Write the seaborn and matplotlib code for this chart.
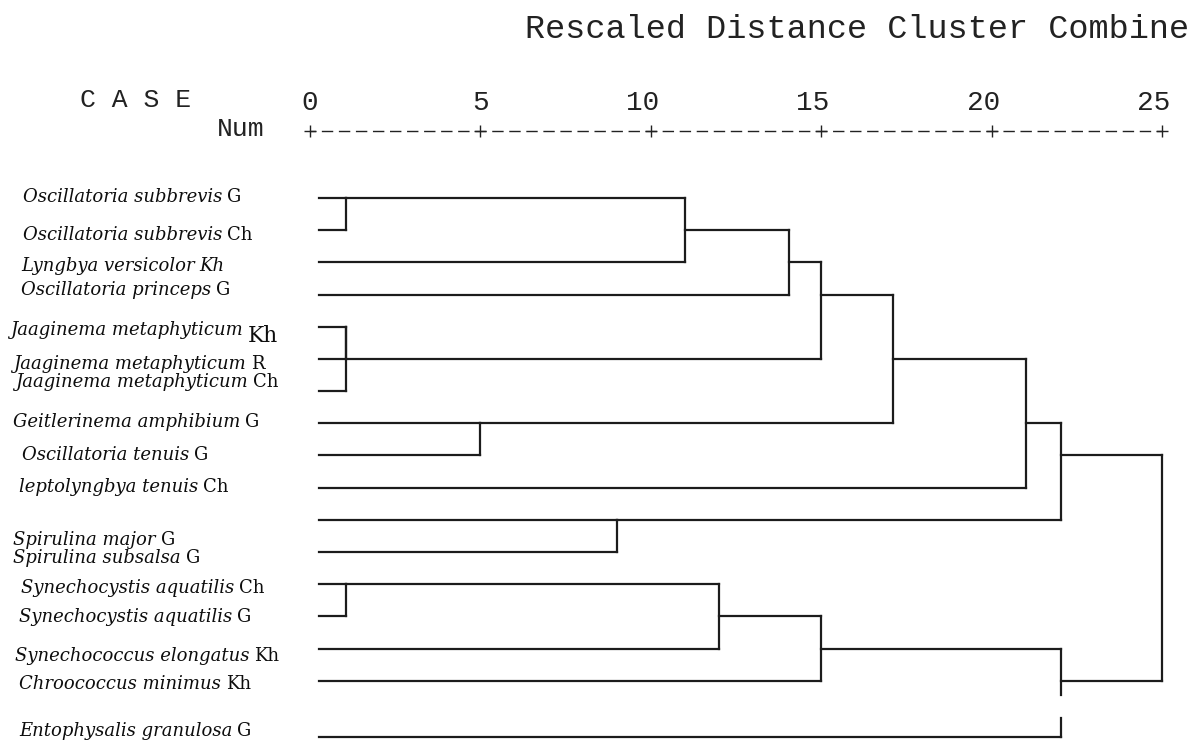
import matplotlib
matplotlib.use("Agg")
import matplotlib.pyplot as plt
import numpy as np
import pandas as pd
import seaborn as sns
from matplotlib.transforms import ScaledTranslation

# ---------------- data ----------------
species = ["Oscillatoria subbrevis", "Oscillatoria subbrevis", "Lyngbya versicolor",
           "Oscillatoria princeps", "Jaaginema metaphyticum", "Jaaginema metaphyticum",
           "Jaaginema metaphyticum", "Geitlerinema amphibium", "Oscillatoria tenuis",
           "leptolyngbya tenuis", "Spirulina major", "Spirulina subsalsa",
           "Synechocystis aquatilis", "Synechocystis aquatilis", "Synechococcus elongatus",
           "Chroococcus minimus", "Entophysalis granulosa"]
sites = ["G", "Ch", "Kh", "G", "Kh", "R", "Ch", "G", "G", "Ch", "G", "G", "Ch", "G",
         "Kh", "Kh", "G"]
# agglomeration schedule (leaves 0..16, new clusters numbered 17.. in order)
merge_a = [0, 4, 18, 12, 7, 10, 17, 20, 23, 24, 25, 27, 28, 29, 26, 30]
merge_b = [1, 5, 6, 13, 8, 11, 2, 14, 3, 15, 19, 21, 9, 22, 16, 31]
merge_h = [1.05, 1.05, 1.05, 1.05, 5.0, 9.0, 11.0, 12.0, 14.05, 15.0, 15.0, 17.1,
           21.0, 22.05, 22.05, 25.0]
x_ticks = [0, 5, 10, 15, 20, 25]
x_tick_labels = ["0", "5", "10", "15", "20", "25"]
title_text = "Rescaled Distance Cluster Combine"
case_text = "C A S E"
num_text = "Num"

# ---------------- layout / style ----------------
W, H = 1193, 742
X0_PX, X25_PX = 310, 1162          # pixel of distance 0 and 25
ROW0_PX, ROW_STEP = 198, 32.18     # first row line, spacing
AXIS_PX = 131                      # y of the +----+ line
LEAF_START = 0.26
LAST_ROW_GAP = 0.75
BREAK = (15.44, 16.16)
LINE_COLOR = "#1c1c1c"
TEXT_COLOR = "#0d0d0d"
label_x_px = [23, 23, 21, 21, 10, 13, 15, 13, 22, 19, 13, 13, 21, 19, 15, 19, 19]
label_base_px = [202, 240, 271, 295, 335, 369, 387, 427, 460, 492, 545, 563, 593, 622,
                 661, 689, 736]
suffix_italic = [False, False, True] + [False] * 14
suffix_scale = [1.0] * 4 + [1.2] + [1.0] * 12
suffix_drop = [0] * 4 + [7] + [0] * 12
LABEL_SIZE = 13

sns.set_theme(style="white")
plt.rcParams["font.family"] = ["DejaVu Serif"]
plt.rcParams["lines.scale_dashes"] = False

fig = plt.figure(figsize=(W / 100, H / 100), dpi=100)
fig.patch.set_facecolor("white")

y_top = (AXIS_PX - ROW0_PX) / ROW_STEP
y_bot = (H - ROW0_PX) / ROW_STEP
ax = fig.add_axes([X0_PX / W, 0, (X25_PX - X0_PX) / W, (H - AXIS_PX) / H])
ax.set_xlim(0, 25)
ax.set_ylim(y_bot, y_top)
ax.set_facecolor("white")

# ---------------- build dendrogram segments ----------------
n = len(species)
def disp(r):
    return r + (LAST_ROW_GAP if r >= n - 1 else 0.0)

row = {i: i for i in range(n)}
start = {i: LEAF_START for i in range(n)}
segs = []
sid = 0
for k, (a, b, h) in enumerate(zip(merge_a, merge_b, merge_h)):
    for c in (a, b):
        segs.append((sid, start[c], disp(row[c]))); segs.append((sid, h, disp(row[c]))); sid += 1
    ya, yb = sorted([disp(row[a]), disp(row[b])])
    if ya < BREAK[0] and yb > BREAK[1]:
        parts = [(ya, BREAK[0]), (BREAK[1], yb)]
    else:
        parts = [(ya, yb)]
    for p0, p1 in parts:
        segs.append((sid, h, p0)); segs.append((sid, h, p1)); sid += 1
    new = n + k
    row[new] = (row[a] + row[b]) // 2
    start[new] = h

df = pd.DataFrame(segs, columns=["seg", "x", "y"])
sns.lineplot(data=df, x="x", y="y", units="seg", estimator=None, sort=False,
             color=LINE_COLOR, lw=1.6, ax=ax)
for ln in ax.lines:
    ln.set_clip_on(False)
    ln.set_solid_capstyle("projecting")

ax.set_xlabel("")
ax.set_ylabel("")
ax.set_yticks([])

# ---------------- ASCII-like axis ----------------
for s in ["left", "right", "bottom"]:
    ax.spines[s].set_visible(False)
px2pt = 0.72
period = (X25_PX - X0_PX) / 50.0
ax.spines["top"].set_visible(True)
ax.spines["top"].set_color("#222222")
ax.spines["top"].set_linewidth(1.0)
ax.spines["top"].set_linestyle((5 * px2pt, (10 * px2pt, (period - 10) * px2pt)))
ax.xaxis.tick_top()
ax.set_xticks(x_ticks)
ax.set_xticklabels(x_tick_labels)
ax.tick_params(axis="x", which="both", direction="inout", length=8, width=1.0,
               color="#222222", pad=7, labelsize=20, labelcolor="#222222")
ax.plot(x_ticks, [1] * len(x_ticks), marker="_", ms=9, mew=1.0, ls="none",
        color="#222222", transform=ax.get_xaxis_transform(), clip_on=False)
off = ScaledTranslation(6 / 72, 0, fig.dpi_scale_trans)
for lbl in ax.get_xticklabels():
    lbl.set_fontfamily("Liberation Mono")
    lbl.set_ha("right")
    lbl.set_transform(lbl.get_transform() + off)

mono = dict(family="Liberation Mono", color="#222222", va="baseline", ha="left")
fig.text(525 / W, 1 - 38 / H, title_text, size=24.1, **mono)
fig.text(80 / W, 1 - 107 / H, case_text, size=19, **mono)
fig.text(217 / W, 1 - 136 / H, num_text, size=19, **mono)

# ---------------- row labels ----------------
fig.canvas.draw()
renderer = fig.canvas.get_renderer()
for i, (sp, st) in enumerate(zip(species, sites)):
    x0, yb = label_x_px[i], label_base_px[i]
    t = fig.text(x0 / W, 1 - yb / H, sp, family="DejaVu Serif", style="italic",
                 size=LABEL_SIZE, color=TEXT_COLOR, va="baseline", ha="left")
    bb = t.get_window_extent(renderer)
    fig.text((bb.x1 + 5) / W, 1 - (yb + suffix_drop[i]) / H, st, family="DejaVu Serif",
             style="italic" if suffix_italic[i] else "normal",
             size=LABEL_SIZE * suffix_scale[i], color=TEXT_COLOR, va="baseline", ha="left")

fig.savefig("out.png", dpi=100, facecolor="white")
